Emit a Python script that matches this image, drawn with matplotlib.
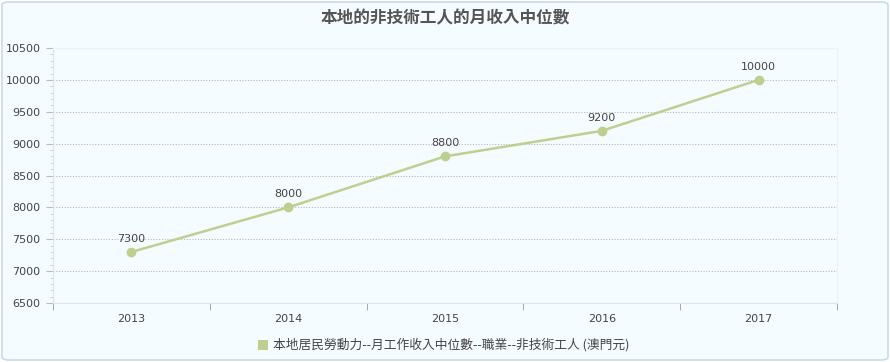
import matplotlib
matplotlib.use('Agg')
import matplotlib.pyplot as plt
from matplotlib.patches import FancyBboxPatch
from matplotlib.ticker import MultipleLocator

plt.rcParams['font.family'] = ['Noto Sans CJK TC', 'DejaVu Sans']

years = ['2013', '2014', '2015', '2016', '2017']
income = [7300, 8000, 8800, 9200, 10000]
series_name = '本地居民勞動力--月工作收入中位數--職業--非技術工人 (澳門元)'
title = '本地的非技術工人的月收入中位數'

LINE = '#bcd08f'
BG = '#f5fcff'
TXT = '#444444'

W, H = 890, 362
fig = plt.figure(figsize=(W / 100, H / 100), dpi=100)
fig.patch.set_facecolor('white')

# rounded outer frame
fig.patches.append(FancyBboxPatch((2 / W, 2 / H), 1 - 4 / W, 1 - 4 / H,
    boxstyle='round,pad=0,rounding_size=0.008', transform=fig.transFigure,
    facecolor=BG, edgecolor='#c9dbe3', lw=1.2, zorder=-10))

# plot area: x 53..837, y 48..303 (pixels from top)
ax = fig.add_axes([53 / W, 1 - 303 / H, (837 - 53) / W, (303 - 48) / H])
ax.set_facecolor('none')

x = list(range(len(years)))
ax.plot(x, income, color=LINE, lw=1.8, marker='o', ms=6, mec=LINE, mfc=LINE,
        zorder=3, clip_on=False)
for xi, v in zip(x, income):
    ax.annotate(str(v), (xi, v), xytext=(0, 6), textcoords='offset points',
                ha='center', va='bottom', fontsize=8, color=TXT,
                family='DejaVu Sans')

ax.set_xlim(-0.5, len(years) - 0.5)
ax.set_ylim(6500, 10500)
ax.yaxis.set_major_locator(MultipleLocator(500))
ax.yaxis.set_minor_locator(MultipleLocator(100))
ax.set_xticks(x)
ax.set_xticklabels(years)
ax.set_xticks([i - 0.5 for i in range(len(years) + 1)], minor=True)

ax.grid(axis='y', which='major', color='#b8b8b8', ls=(0, (1, 1.5)), lw=0.8)
ax.tick_params(axis='y', which='major', length=5, color='#bbbbbb',
               labelsize=8, labelcolor=TXT, pad=4)
ax.tick_params(axis='y', which='minor', length=2, color='#cccccc')
ax.tick_params(axis='x', which='major', length=0, labelsize=8,
               labelcolor=TXT, pad=8)
ax.tick_params(axis='x', which='minor', length=5, color='#999999')
for lbl in ax.get_xticklabels() + ax.get_yticklabels():
    lbl.set_family('DejaVu Sans')

for s in ['left', 'bottom']:
    ax.spines[s].set_color('#dde6ea')
for s in ['top', 'right']:
    ax.spines[s].set_color('#eef2f4')

fig.text(0.5, 1 - 18 / H, title, ha='center', va='center', fontsize=12,
         color='#555555', fontweight='bold')

# legend
fig.patches.append(plt.Rectangle((258 / W, 1 - 350 / H), 10 / W, 10 / H,
    transform=fig.transFigure, facecolor=LINE, edgecolor='none'))
fig.text(273 / W, 1 - 345 / H, series_name, ha='left', va='center',
         fontsize=9.2, color=TXT)

fig.savefig('out.png', dpi=100, facecolor='white')
